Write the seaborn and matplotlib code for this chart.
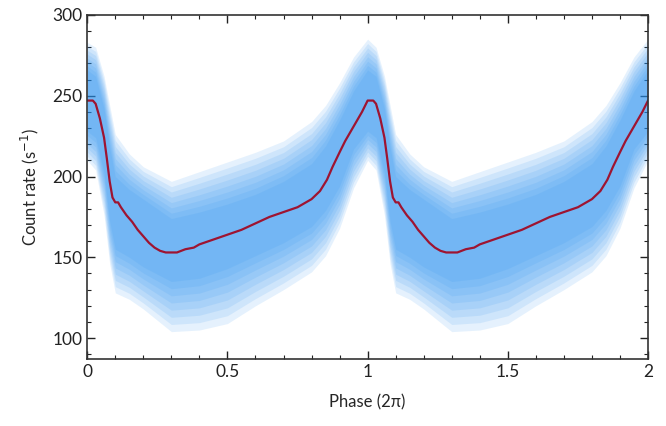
import numpy as np
import pandas as pd
import seaborn as sns
import matplotlib.pyplot as plt
from matplotlib.ticker import MultipleLocator

# one pulse cycle (profile repeats for phase 1-2)
phase = [0.00, 0.02, 0.03, 0.045, 0.06, 0.07, 0.08, 0.09, 0.10, 0.11, 0.12, 0.14,
         0.16, 0.18, 0.20, 0.22, 0.24, 0.26, 0.28, 0.30, 0.32, 0.35, 0.38, 0.40,
         0.45, 0.50, 0.55, 0.60, 0.65, 0.70, 0.75, 0.80, 0.83, 0.855, 0.875, 0.90,
         0.92, 0.94, 0.96, 0.98, 1.00]
rate = [247, 247, 245, 236, 224, 211, 197, 187, 184, 184, 181, 176,
        172, 167, 163, 159, 156, 154, 153, 153, 153, 155, 156, 158,
        161, 164, 167, 171, 175, 178, 181, 186, 191, 198, 206, 215,
        222, 228, 234, 240, 247]

# spread of the individual profiles (faint outer / dense inner envelopes)
band_phase = [0.00, 0.03, 0.06, 0.08, 0.10, 0.15, 0.20, 0.30, 0.40, 0.50, 0.60,
              0.70, 0.80, 0.85, 0.90, 0.95, 1.00]
outer_hi = [283, 280, 262, 244, 226, 214, 206, 197, 203, 209, 215, 222, 234, 244, 258, 274, 285]
outer_lo = [210, 204, 176, 146, 128, 124, 118, 104, 105, 109, 120, 130, 141, 151, 168, 193, 210]
inner_hi = [266, 262, 242, 218, 200, 192, 186, 174, 178, 183, 189, 197, 208, 219, 235, 253, 266]
inner_lo = [228, 224, 202, 172, 155, 150, 144, 135, 137, 143, 151, 159, 169, 179, 194, 217, 228]


def two_cycles(x, y):
    x = np.asarray(x, dtype=float)
    y = np.asarray(y, dtype=float)
    return np.concatenate([x, x[1:] + 1]), np.concatenate([y, y[1:]])


px, py = two_cycles(phase, rate)
df = pd.DataFrame({'Phase': px, 'Rate': py})

bx, ohi = two_cycles(band_phase, outer_hi)
_, olo = two_cycles(band_phase, outer_lo)
_, ihi = two_cycles(band_phase, inner_hi)
_, ilo = two_cycles(band_phase, inner_lo)

sns.set_style('ticks')
plt.rcParams['font.family'] = ['Lato', 'DejaVu Sans']

fig = plt.figure(figsize=(6.66, 4.26), dpi=100)
ax = fig.add_axes([0.131, 0.157, 0.842, 0.808])

# soft edged band: stack of faint layers going from outer to inner envelope
for t in np.linspace(0, 1, 8):
    ax.fill_between(bx, olo + t * (ilo - olo), ohi + t * (ihi - ohi),
                    color='#2b92f2', alpha=0.12, lw=0)
sns.lineplot(data=df, x='Phase', y='Rate', ax=ax, color='#9e1431', lw=1.6)

ax.set_xlim(0, 2)
ax.set_ylim(87, 300)
ax.xaxis.set_major_locator(MultipleLocator(0.5))
ax.xaxis.set_minor_locator(MultipleLocator(0.1))
ax.yaxis.set_major_locator(MultipleLocator(50))
ax.yaxis.set_minor_locator(MultipleLocator(10))
ax.set_xticks([0, 0.5, 1, 1.5, 2], ['0', '0.5', '1', '1.5', '2'])
ax.tick_params(which='both', direction='in', top=True, right=True, labelsize=12.5, colors='#222222')
ax.tick_params(which='major', length=6, width=1)
ax.tick_params(which='minor', length=3, width=0.8)
for s in ax.spines.values():
    s.set_color('#333333')
    s.set_linewidth(1.2)

ax.set_xlabel('Phase (2π)', fontsize=12, labelpad=10)
ax.set_ylabel('Count rate (s$^{-1}$)', fontsize=12, labelpad=8)

fig.savefig('out.png', dpi=100)
